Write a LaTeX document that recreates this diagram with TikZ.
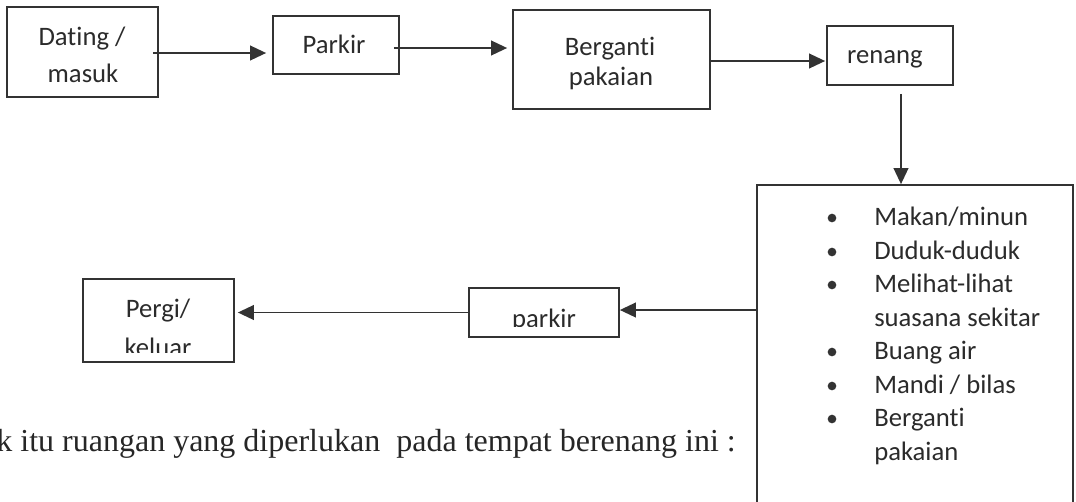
\documentclass[tikz,border=0pt]{standalone}
\usepackage{fontspec}
\setmainfont{Liberation Serif}
\newfontfamily\carlito[Ligatures=NoCommon]{Carlito}
\usetikzlibrary{arrows.meta}
\definecolor{ink}{HTML}{333333}
\definecolor{textink}{HTML}{2B2B2B}
\definecolor{printink}{HTML}{262626}
\begin{document}
\begin{tikzpicture}[x=0.75pt,y=-0.75pt,
  box/.style={draw=ink, line width=1.3pt, rectangle, inner sep=0pt},
  lbl/.style={font=\carlito\fontsize{20}{24}\selectfont, text=textink, anchor=base, inner sep=0pt},
  item/.style={lbl, anchor=base west},
  dot/.style={circle, fill=ink, inner sep=0pt, minimum size=6.5pt},
  arr/.style={draw=ink, line width=1.4pt, -{Triangle[length=12pt,width=11pt]}},
  link/.style={draw=ink, line width=1.4pt}]
\useasboundingbox (0,0) rectangle (1076,501);
\clip (0,0) rectangle (1076,501);

% process boxes
\node[box, minimum width=113.25pt, minimum height=67.5pt] (b1) at (82.5,52) {};
\node[box, minimum width=94.5pt, minimum height=43.5pt] (b2) at (336,45) {};
\node[box, minimum width=147.75pt, minimum height=74.25pt] (b3) at (611.5,59.5) {};
\node[box, minimum width=94.5pt, minimum height=44.25pt] (b4) at (890,55.5) {};
\node[box, minimum width=237pt, minimum height=251.25pt] (b5) at (915,352.5) {};
\node[box, minimum width=112.5pt, minimum height=36.75pt] (b6) at (544,312.5) {};
\node[box, minimum width=113.25pt, minimum height=62.25pt] (b7) at (158.5,320.5) {};

% box texts
\node[lbl] (t1a) at (82,45) {Dating /};
\node[lbl] (t1b) at (83,82) {masuk};
\node[lbl] (t2) at (334,53) {Parkir};
\node[lbl] (t3a) at (610,55) {Berganti};
\node[lbl] (t3b) at (611,85) {pakaian};
\node[lbl] (t4) at (885,63) {renang};
\node[lbl] (t7a) at (158,317) {Pergi/};
\begin{scope}
  \clip (83,279) rectangle (234,352);
  \node[lbl] (t7b) at (158,356) {keluar};
\end{scope}
\begin{scope}
  \clip (469,288) rectangle (619,326);
  \node[lbl] (t6) at (544,327) {parkir};
\end{scope}

% activity list
\foreach \n/\by/\txt/\hasdot in {
  1/225/{Makan/minun}/1,
  2/259/{Duduk-duduk}/1,
  3/292/{Melihat-lihat}/1,
  4/326/{suasana sekitar}/0,
  5/359/{Buang air}/1,
  6/393/{Mandi / bilas}/1,
  7/426/{Berganti}/1,
  8/460/{pakaian}/0}{
  \node[item] (li\n) at (874,\by) {\txt};
  \ifnum\hasdot=1
    \node[dot] (ld\n) at (832,\by-7) {};
  \fi
}

% connectors
\draw[arr, shorten >=4.5pt] ([xshift=-4.5pt,yshift=-0.75pt]b1.east) -- ([yshift=-0.75pt]b1.east -| b2.west);
\coordinate (c2) at ([xshift=-4.5pt,yshift=-2.25pt]b2.east);
\draw[arr, shorten >=3.75pt] (c2) -- (c2 -| b3.west);
\coordinate (c3) at ([yshift=-1.125pt]b3.east);
\draw[arr, shorten >=0.75pt] (c3) -- (c3 -| b4.west);
\coordinate (c4) at ([xshift=8.25pt,yshift=-6pt]b4.south);
\draw[arr] (c4) -- (c4 |- b5.north);
\coordinate (c5) at ([yshift=1.875pt]b6.east);
\draw[arr] (c5 -| b5.west) -- (c5);
\draw[arr, shorten >=2.25pt] (b6.west) -- (b6.west -| b7.east);

% sentence below the flow
\node[font=\fontsize{24}{29}\selectfont, text=printink, anchor=base east, inner sep=0pt] (note) at (736,451) {uk itu ruangan yang diperlukan\ \ pada tempat berenang ini :};
\end{tikzpicture}
\end{document}
